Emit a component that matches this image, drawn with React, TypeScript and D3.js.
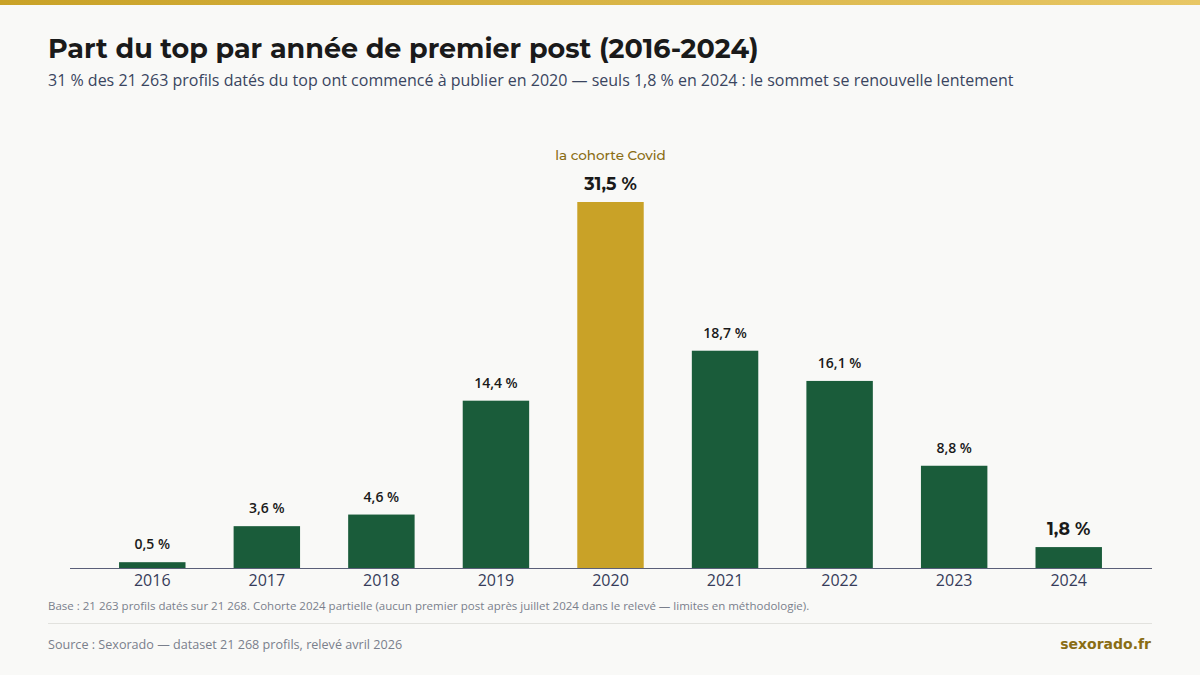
import React, { useEffect, useRef } from "react";
import * as d3 from "d3";

// Chart data
const years = ["2016", "2017", "2018", "2019", "2020", "2021", "2022", "2023", "2024"];
const shares = [0.5, 3.6, 4.6, 14.4, 31.5, 18.7, 16.1, 8.8, 1.8];
const highlighted = ["2020", "2024"];
const annotationYear = "2020";
const annotationText = "la cohorte Covid";

const fmt = (v: number) => `${v.toFixed(1).replace(".", ",")} %`;

export default function App() {
  const ref = useRef<SVGSVGElement>(null);

  useEffect(() => {
    const svg = d3.select(ref.current);
    svg.selectAll("*").remove();

    const width = 1200;
    const height = 675;
    const base = 568;
    const sans = "'Open Sans', 'Noto Sans', sans-serif";
    const head = "'Montserrat', 'DejaVu Sans', sans-serif";

    svg.append("rect").attr("width", width).attr("height", height).attr("fill", "#f9f9f7");

    // Top accent strip
    const grad = svg.append("defs").append("linearGradient").attr("id", "topbar");
    grad.append("stop").attr("offset", "0%").attr("stop-color", "#c9a227");
    grad.append("stop").attr("offset", "100%").attr("stop-color", "#e8c765");
    svg.append("rect").attr("width", width).attr("height", 5).attr("fill", "url(#topbar)");

    // Titles
    svg.append("text")
      .attr("x", 48).attr("y", 58)
      .attr("font-family", head)
      .attr("font-size", 27).attr("font-weight", 700).attr("fill", "#1a1a1a")
      .text("Part du top par année de premier post (2016-2024)");
    svg.append("text")
      .attr("x", 48).attr("y", 86)
      .attr("font-family", sans).attr("font-size", 16).attr("fill", "#3a4560")
      .text("31 % des 21 263 profils datés du top ont commencé à publier en 2020 — seuls 1,8 % en 2024 : le sommet se renouvelle lentement");

    // Scales
    const x = d3.scaleBand().domain(years).range([95, 1126]).paddingInner(0.42).paddingOuter(0.21);
    const y = d3.scaleLinear().domain([0, 31.5]).range([base, 202]);

    const data = years.map((yr, i) => ({ yr, v: shares[i] }));

    svg.append("g")
      .selectAll("rect")
      .data(data)
      .join("rect")
      .attr("x", d => x(d.yr)!)
      .attr("y", d => y(d.v))
      .attr("width", x.bandwidth())
      .attr("height", d => base - y(d.v))
      .attr("fill", d => (d.yr === annotationYear ? "#c9a227" : "#1a5c3a"));

    // Value labels
    svg.append("g")
      .selectAll("text")
      .data(data)
      .join("text")
      .attr("x", d => x(d.yr)! + x.bandwidth() / 2)
      .attr("y", d => y(d.v) - (highlighted.includes(d.yr) ? 12 : 13))
      .attr("text-anchor", "middle")
      .attr("font-family", d => (highlighted.includes(d.yr) ? head : sans))
      .attr("font-size", d => (highlighted.includes(d.yr) ? 17.5 : 14))
      .attr("font-weight", d => (highlighted.includes(d.yr) ? 700 : 600))
      .attr("fill", "#1a1a1a")
      .text(d => fmt(d.v));

    // Annotation
    svg.append("text")
      .attr("x", x(annotationYear)! + x.bandwidth() / 2)
      .attr("y", 160)
      .attr("text-anchor", "middle")
      .attr("font-family", head)
      .attr("font-size", 13.5).attr("font-weight", 500).attr("fill", "#8a6d14")
      .text(annotationText);

    // Axis
    svg.append("line")
      .attr("x1", 70).attr("x2", 1152).attr("y1", base + 0.5).attr("y2", base + 0.5)
      .attr("stroke", "#5a5f78").attr("stroke-width", 1);
    svg.append("g")
      .selectAll("text")
      .data(years)
      .join("text")
      .attr("x", d => x(d)! + x.bandwidth() / 2)
      .attr("y", 586)
      .attr("text-anchor", "middle")
      .attr("font-family", sans).attr("font-size", 16).attr("font-weight", 500).attr("fill", "#363c5a")
      .text(d => d);

    // Footer
    svg.append("text")
      .attr("x", 48).attr("y", 610)
      .attr("font-family", sans).attr("font-size", 11.5).attr("fill", "#7a7f8c")
      .text("Base : 21 263 profils datés sur 21 268. Cohorte 2024 partielle (aucun premier post après juillet 2024 dans le relevé — limites en méthodologie).");
    svg.append("line")
      .attr("x1", 48).attr("x2", 1152).attr("y1", 623.5).attr("y2", 623.5)
      .attr("stroke", "#e2e2de");
    svg.append("text")
      .attr("x", 48).attr("y", 649)
      .attr("font-family", sans).attr("font-size", 12.6).attr("fill", "#7a7f8c")
      .text("Source : Sexorado — dataset 21 268 profils, relevé avril 2026");
    svg.append("text")
      .attr("x", 1151).attr("y", 649)
      .attr("text-anchor", "end")
      .attr("font-family", "'DejaVu Sans', sans-serif")
      .attr("font-size", 14).attr("font-weight", 700).attr("fill", "#8a6d14")
      .text("sexorado.fr");
  }, []);

  return (
    <svg
      ref={ref}
      width={1200}
      height={675}
      viewBox="0 0 1200 675"
      style={{ position: "absolute", left: 0, top: 0, display: "block" }}
    />
  );
}
